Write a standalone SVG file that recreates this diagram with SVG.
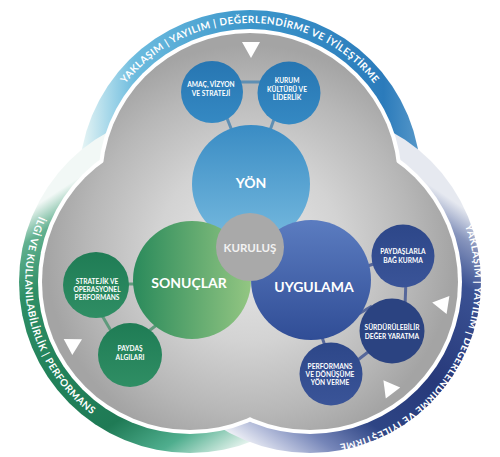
<svg xmlns="http://www.w3.org/2000/svg" width="500" height="457" viewBox="0 0 500 457">
<defs>
<style>
.bt{font-family:Lato,"Liberation Sans",sans-serif;font-weight:700;font-size:10px;fill:#ffffff;letter-spacing:0.6px}
.big{font-family:Lato,"Liberation Sans",sans-serif;font-weight:700;font-size:14px;fill:#ffffff;text-anchor:middle}
.mid{font-family:Lato,"Liberation Sans",sans-serif;font-weight:700;font-size:11.5px;fill:#f2f2f2;text-anchor:middle}
.sm{font-family:Lato,"Liberation Sans",sans-serif;font-weight:700;font-size:6.6px;fill:#ffffff;text-anchor:middle}
.ct{stroke-width:3;stroke-linecap:butt;fill:none}
</style>
<linearGradient id="gTop" gradientUnits="userSpaceOnUse" x1="80" y1="0" x2="425" y2="0">
<stop offset="0" stop-color="#eaf6f5"/>
<stop offset="0.08" stop-color="#a9d9ea"/>
<stop offset="0.16" stop-color="#6cbbde"/>
<stop offset="0.5" stop-color="#3b95ca"/>
<stop offset="0.88" stop-color="#2b7bbb"/>
<stop offset="1" stop-color="#5d9ccb"/>
</linearGradient>
<linearGradient id="gLeft" gradientUnits="userSpaceOnUse" x1="75" y1="180" x2="250" y2="450">
<stop offset="0" stop-color="#f2f8f6"/>
<stop offset="0.08" stop-color="#62b190"/>
<stop offset="0.22" stop-color="#2f8f66"/>
<stop offset="0.46" stop-color="#22825a"/>
<stop offset="0.7" stop-color="#1f7a55"/>
<stop offset="0.85" stop-color="#4fae8e"/>
<stop offset="0.94" stop-color="#b9dfd1"/>
<stop offset="1" stop-color="#ffffff"/>
</linearGradient>
<linearGradient id="gRight" gradientUnits="userSpaceOnUse" x1="430" y1="185" x2="250" y2="450">
<stop offset="0" stop-color="#e6e9f0"/>
<stop offset="0.08" stop-color="#8795bd"/>
<stop offset="0.2" stop-color="#3a5193"/>
<stop offset="0.5" stop-color="#27397a"/>
<stop offset="0.72" stop-color="#2e4585"/>
<stop offset="0.85" stop-color="#7585b8"/>
<stop offset="0.93" stop-color="#b8c0dc"/>
<stop offset="1" stop-color="#f4f5f9"/>
</linearGradient>
<radialGradient id="gGray" gradientUnits="userSpaceOnUse" cx="250" cy="250" r="205">
<stop offset="0" stop-color="#e8e8e8"/>
<stop offset="0.45" stop-color="#d3d3d3"/>
<stop offset="0.8" stop-color="#b7b7b7"/>
<stop offset="1" stop-color="#a4a4a4"/>
</radialGradient>
<linearGradient id="gYon" x1="0" y1="0" x2="0" y2="1">
<stop offset="0" stop-color="#3a8cc4"/>
<stop offset="1" stop-color="#76badf"/>
</linearGradient>
<linearGradient id="gSon" x1="0" y1="0" x2="1" y2="0">
<stop offset="0" stop-color="#2a8a5b"/>
<stop offset="1" stop-color="#93c682"/>
</linearGradient>
<linearGradient id="gUyg" x1="0" y1="0" x2="0" y2="1">
<stop offset="0" stop-color="#5b7cc0"/>
<stop offset="1" stop-color="#304d96"/>
</linearGradient>
<linearGradient id="gSmB" x1="0" y1="0" x2="0" y2="1">
<stop offset="0" stop-color="#2776b2"/>
<stop offset="1" stop-color="#3589c3"/>
</linearGradient>
<linearGradient id="gSmG" x1="0" y1="0" x2="0" y2="1">
<stop offset="0" stop-color="#1f7c55"/>
<stop offset="1" stop-color="#2f8e64"/>
</linearGradient>
<linearGradient id="gSmN" x1="0" y1="0" x2="0" y2="1">
<stop offset="0" stop-color="#2d4789"/>
<stop offset="1" stop-color="#3a5498"/>
</linearGradient>
<path id="pTop" d="M 92,181 A 158,158 0 0 1 408,181"/>
<path id="pLeft" d="M 133.6,127 A 165,165 0 0 0 218.7,444.5"/>
<path id="pRight" d="M 404.6,146.8 A 165,165 0 0 1 240.3,431.5"/>
</defs>
<rect width="500" height="457" fill="#ffffff"/>
<g id="frame">
<circle cx="250" cy="181" r="171" fill="url(#gTop)"/>
<circle cx="190" cy="282" r="171" fill="url(#gLeft)"/>
<circle cx="310" cy="282" r="171" fill="url(#gRight)"/>
<circle cx="250" cy="181" r="152" fill="#ffffff"/>
<circle cx="190" cy="282" r="152" fill="#ffffff"/>
<circle cx="310" cy="282" r="152" fill="#ffffff"/>
<circle cx="250" cy="181" r="148" fill="url(#gGray)"/>
<circle cx="190" cy="282" r="148" fill="url(#gGray)"/>
<circle cx="310" cy="282" r="148" fill="url(#gGray)"/>
</g>
<g id="band-text">
<text class="bt"><textPath href="#pTop" startOffset="50%" text-anchor="middle" textLength="287" lengthAdjust="spacing">YAKLAŞIM | YAYILIM | DEĞERLENDİRME VE İYİLEŞTİRME</textPath></text>
<text class="bt"><textPath href="#pLeft" startOffset="50%" text-anchor="middle" textLength="222" lengthAdjust="spacing">İLGİ VE KULLANILABİLİRLİK | PERFORMANS</textPath></text>
<text class="bt"><textPath href="#pRight" startOffset="50%" text-anchor="middle" textLength="287" lengthAdjust="spacing">YAKLAŞIM | YAYILIM | DEĞERLENDİRME VE İYİLEŞTİRME</textPath></text>
</g>
<g id="arrows" fill="#ffffff">
<polygon points="242,42 260,42 251,58"/>
<polygon points="449.4,296.1 446.6,313.9 432.2,302.5"/>
<polygon points="400.2,387.6 385.8,398.4 383.4,380.2"/>
<polygon points="63.7,339.1 72.3,354.9 82,339.3"/>
</g>
<g id="connectors">
<g class="ct" stroke="#5f8fb3">
<line x1="235" y1="82" x2="265" y2="82"/>
<line x1="223" y1="108" x2="234" y2="136"/>
<line x1="278" y1="108" x2="268" y2="136"/>
</g>
<g class="ct" stroke="#5f9a7c">
<line x1="120" y1="284" x2="142" y2="284"/>
<line x1="100" y1="312" x2="114" y2="336"/>
<line x1="145" y1="334" x2="163" y2="320"/>
</g>
<g class="ct" stroke="#56679a">
<line x1="358" y1="269" x2="380" y2="262"/>
<line x1="406" y1="280" x2="405" y2="306"/>
<line x1="350" y1="319" x2="372" y2="306"/>
<line x1="350" y1="366" x2="372" y2="349"/>
<line x1="319" y1="328" x2="327" y2="352"/>
</g>
</g>
<g id="n-amac"><circle cx="212" cy="92" r="31" fill="url(#gSmB)"/><text class="sm"><tspan x="211" y="87.3">AMAÇ, VİZYON</tspan><tspan x="211" y="95.7">VE STRATEJİ</tspan></text></g>
<g id="n-kurum"><circle cx="289" cy="93" r="31.5" fill="url(#gSmB)"/><text class="sm"><tspan x="287" y="83.2">KURUM</tspan><tspan x="287" y="91.6">KÜLTÜRÜ VE</tspan><tspan x="287" y="100">LİDERLİK</tspan></text></g>
<g id="n-yon"><circle cx="251" cy="184" r="59" fill="url(#gYon)"/><text class="big" x="251" y="188">YÖN</text></g>
<g id="n-sonuclar"><circle cx="192" cy="280" r="59" fill="url(#gSon)"/><text class="big" x="189" y="288">SONUÇLAR</text></g>
<g id="n-uygulama"><circle cx="311" cy="280" r="60" fill="url(#gUyg)"/><text class="big" x="314" y="292">UYGULAMA</text></g>
<g id="n-kurulus"><circle cx="250" cy="247" r="34" fill="#a9a9a9"/><text class="mid" x="250" y="251.5">KURULUŞ</text></g>
<g id="n-stratejik"><circle cx="96" cy="285" r="33" fill="url(#gSmG)"/><text class="sm"><tspan x="97" y="283.6">STRATEJİK VE</tspan><tspan x="97" y="292">OPERASYONEL</tspan><tspan x="97" y="300.4">PERFORMANS</tspan></text></g>
<g id="n-paydas"><circle cx="130" cy="355" r="32" fill="url(#gSmG)"/><text class="sm"><tspan x="130" y="351">PAYDAŞ</tspan><tspan x="130" y="359.8">ALGILARI</tspan></text></g>
<g id="n-paydaslarla"><circle cx="403" cy="256" r="31.5" fill="url(#gSmN)"/><text class="sm"><tspan x="403" y="254.3">PAYDAŞLARLA</tspan><tspan x="403" y="262.7">BAĞ KURMA</tspan></text></g>
<g id="n-surdurulebilir"><circle cx="392" cy="331" r="32.5" fill="#2b4381"/><text class="sm"><tspan x="392" y="330.2">SÜRDÜRÜLEBİLİR</tspan><tspan x="392" y="338.6">DEĞER YARATMA</tspan></text></g>
<g id="n-performans"><circle cx="331" cy="374" r="31.5" fill="url(#gSmN)"/><text class="sm"><tspan x="330" y="368.5">PERFORMANS</tspan><tspan x="330" y="376.9">VE DÖNÜŞÜME</tspan><tspan x="330" y="385.3">YÖN VERME</tspan></text></g>
</svg>
